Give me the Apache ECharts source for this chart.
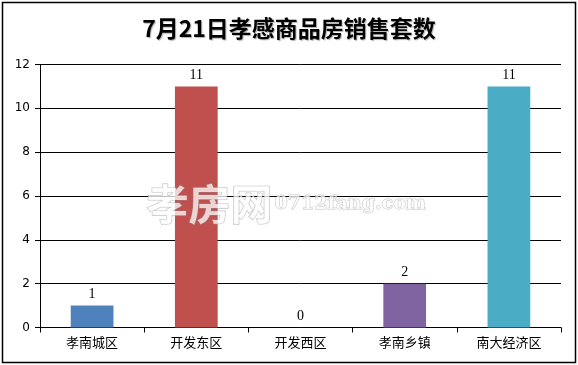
<!DOCTYPE html>
<html>
<head>
<meta charset="utf-8">
<script src="https://cdn.jsdelivr.net/npm/echarts@6/dist/echarts.min.js"></script>
<style>
  html, body { margin: 0; padding: 0; background: #fff; }
  #chart { width: 578px; height: 365px; }
</style>
</head>
<body>
<div id="chart"></div>
<script>
// Daily sales count of commercial housing by district
const titleText = '7月21日孝感商品房销售套数';
const districts = ['孝南城区', '开发东区', '开发西区', '孝南乡镇', '南大经济区'];
const salesCounts = [1, 11, 0, 2, 11];
const barColors = ['#4F81BD', '#C0504D', '#9BBB59', '#8064A2', '#4BACC6'];
const yTicks = { min: 0, max: 12, interval: 2 };

const chart = echarts.init(document.getElementById('chart'), null, { renderer: 'canvas' });

const cjkFont = '"Noto Sans CJK SC", "DejaVu Sans", sans-serif';
const numFont = '"Liberation Serif", "DejaVu Serif", serif';

chart.setOption({
  backgroundColor: '#fff',
  animation: false,
  title: {
    text: titleText,
    left: 'center',
    top: 12,
    textStyle: {
      fontFamily: '"Noto Sans CJK SC", serif',
      fontSize: 23,
      fontWeight: 'bold',
      color: '#000',
      textShadowColor: 'rgba(0,0,0,0.3)',
      textShadowOffsetX: 1,
      textShadowOffsetY: 1,
      textShadowBlur: 1
    }
  },
  grid: { left: 40, right: 17, top: 64.5, bottom: 37.5, containLabel: false },
  xAxis: {
    type: 'category',
    data: districts,
    axisLine: { lineStyle: { color: '#000', width: 1 } },
    axisTick: { show: true, alignWithLabel: false, length: 5, lineStyle: { color: '#000' } },
    axisLabel: { color: '#000', fontSize: 13, fontFamily: cjkFont, margin: 8 },
    splitLine: { show: false }
  },
  yAxis: {
    type: 'value',
    min: yTicks.min,
    max: yTicks.max,
    interval: yTicks.interval,
    axisLine: { show: true, lineStyle: { color: '#000', width: 1 } },
    axisTick: { show: true, length: 5, lineStyle: { color: '#000' } },
    axisLabel: { color: '#000', fontSize: 12, fontFamily: '"DejaVu Sans", sans-serif', margin: 10 },
    splitLine: { show: true, lineStyle: { color: '#000', width: 1 } }
  },
  series: [{
    type: 'bar',
    data: salesCounts.map((v, i) => ({ value: v, itemStyle: { color: barColors[i] } })),
    barWidth: '41%',
    label: {
      show: true,
      position: 'top',
      distance: 4,
      color: '#000',
      fontSize: 14,
      fontFamily: numFont
    }
  }],
  graphic: [
    {
      type: 'rect',
      shape: { x: 2.5, y: 2.5, width: 573, height: 360 },
      style: { fill: 'none', stroke: '#000', lineWidth: 1.5 },
      silent: true,
      z: 100
    },
    {
      type: 'text',
      left: 146,
      top: 182,
      z: 50,
      style: {
        text: '孝房网',
        font: 'bold 42px "Noto Sans CJK SC", sans-serif',
        fill: 'rgba(255,255,255,0.75)',
        stroke: 'rgba(150,150,150,0.55)',
        lineWidth: 1.2
      },
      silent: true
    },
    {
      type: 'text',
      left: 274,
      top: 194,
      z: 50,
      style: {
        text: '0712fang.com',
        font: 'bold 19px "DejaVu Serif", serif',
        fill: 'rgba(255,255,255,0.75)',
        stroke: 'rgba(150,150,150,0.55)',
        lineWidth: 1
      },
      silent: true
    }
  ]
});
</script>
</body>
</html>
